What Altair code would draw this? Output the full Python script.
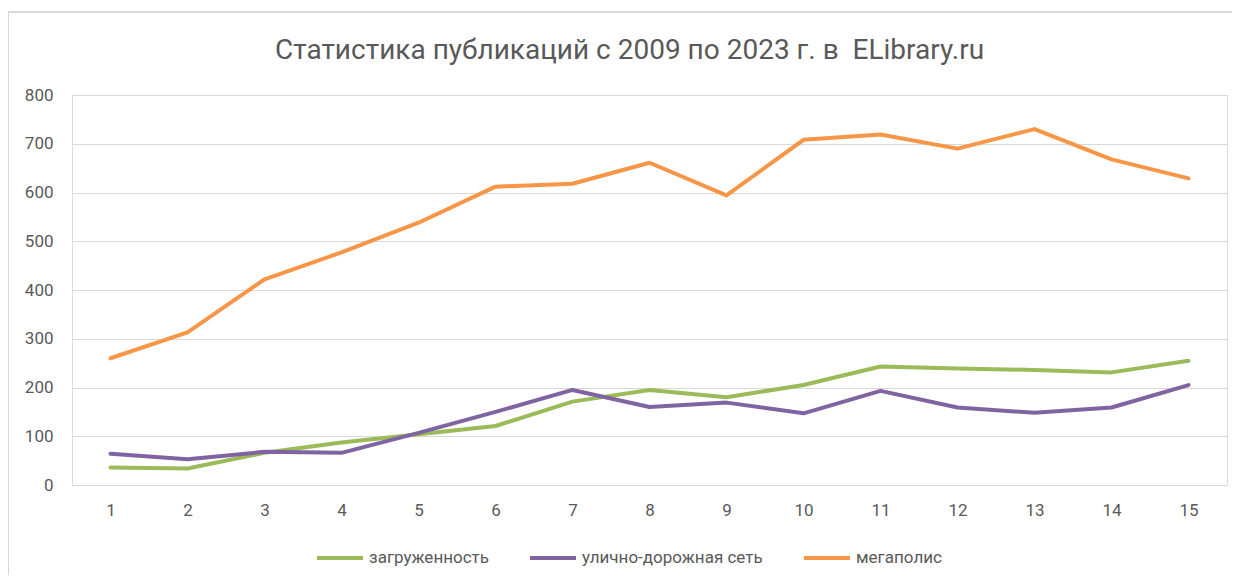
import altair as alt
import pandas as pd

cats = list(range(1, 16))
series_names = ["загруженность", "улично-дорожная сеть", "мегаполис"]
zagruzhennost = [36, 34, 66, 87, 104, 121, 171, 195, 180, 205, 243, 239, 236, 231, 255]
udc = [64, 53, 68, 66, 107, 150, 195, 160, 169, 147, 193, 159, 148, 159, 205]
megapolis = [260, 313, 422, 477, 538, 612, 618, 661, 594, 708, 719, 690, 730, 668, 629]
colors = ["#9BBB59", "#8064A2", "#F79646"]
y_ticks = list(range(0, 801, 100))

rows = []
for name, vals in zip(series_names, [zagruzhennost, udc, megapolis]):
    for c, v in zip(cats, vals):
        rows.append({"cat": c, "value": v, "series": name})
df = pd.DataFrame(rows)

FONT = "Roboto"
GRAY = "#595959"
BORDER = "#D9D9D9"

lines = alt.Chart(df).mark_line(
    strokeWidth=4, strokeCap="round", strokeJoin="round"
).encode(
    x=alt.X("cat:O", scale=alt.Scale(padding=0.5),
            axis=alt.Axis(title=None, labelAngle=0, domain=False, ticks=False,
                          labelPadding=17, labelFontSize=17, labelColor=GRAY,
                          labelFont=FONT, grid=False)),
    y=alt.Y("value:Q", scale=alt.Scale(domain=[0, 800], nice=False),
            axis=alt.Axis(title=None, values=y_ticks, domain=False, ticks=False,
                          labelPadding=19, labelFontSize=17, labelColor=GRAY,
                          labelFont=FONT, gridColor=BORDER, gridWidth=1)),
    color=alt.Color("series:N", sort=series_names,
                    scale=alt.Scale(domain=series_names, range=colors),
                    legend=alt.Legend(title=None, orient="none", direction="horizontal",
                                      legendX=243, legendY=438,
                                      symbolType="stroke", symbolSize=2116,
                                      symbolStrokeWidth=4, labelOffset=4,
                                      columnPadding=33, labelFontSize=17,
                                      labelLimit=400,
                                      labelColor=GRAY, labelFont=FONT)),
)

# chart-area frame (top and left edges visible in the reference)
frame_top = alt.Chart(df).mark_rule(color=BORDER, strokeWidth=2).encode(
    x=alt.value(-64), x2=alt.value(1168), y=alt.value(-83)
)
frame_left = alt.Chart(df).mark_rule(color=BORDER, strokeWidth=2).encode(
    x=alt.value(-64), y=alt.value(-83), y2=alt.value(490)
)

chart = alt.layer(frame_top, frame_left, lines).properties(
    width=1155, height=390,
    title=alt.Title("Статистика публикаций с 2009 по 2023 г. в\u00a0 ELibrary.ru",
                    fontSize=28, font=FONT, color=GRAY, fontWeight="normal",
                    anchor="middle", offset=-76, dx=-20, baseline="alphabetic"),
    autosize=alt.AutoSizeParams(type="none"),
    padding={"left": 64, "top": 87, "right": 5, "bottom": 90},
).configure_view(stroke=None).configure(background="white")

chart.save("out.html", embed_options={"renderer": "svg", "actions": False})
